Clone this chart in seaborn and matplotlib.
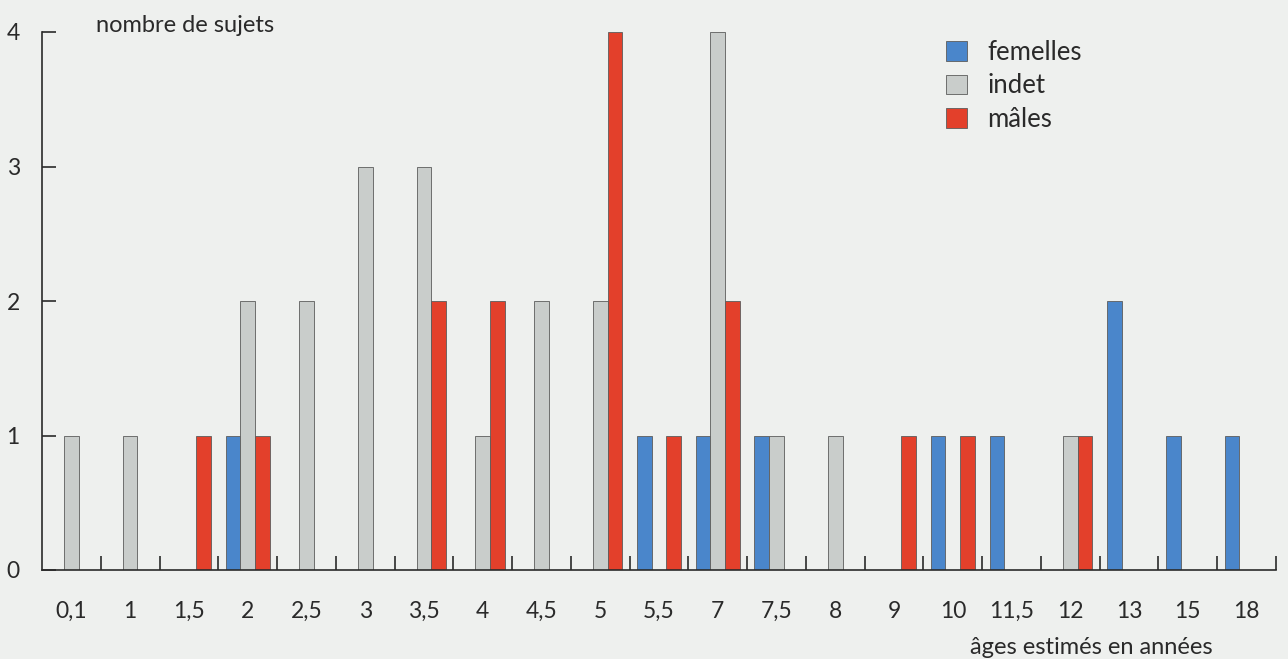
import numpy as np
import pandas as pd
import matplotlib
matplotlib.use("Agg")
import matplotlib.pyplot as plt
import seaborn as sns
from matplotlib.patches import Patch

# ---- data ----
ages = ["0,1", "1", "1,5", "2", "2,5", "3", "3,5", "4", "4,5", "5", "5,5",
        "7", "7,5", "8", "9", "10", "11,5", "12", "13", "15", "18"]
femelles = [0, 0, 0, 1, 0, 0, 0, 0, 0, 0, 1, 1, 1, 0, 0, 1, 1, 0, 2, 1, 1]
indet    = [1, 1, 0, 2, 2, 3, 3, 1, 2, 2, 0, 4, 1, 1, 0, 0, 0, 1, 0, 0, 0]
males    = [0, 0, 1, 1, 0, 0, 2, 2, 0, 4, 1, 2, 0, 0, 1, 1, 0, 1, 0, 0, 0]
groups = ["femelles", "indet", "mâles"]
yticks = [0, 1, 2, 3, 4]

colors = {"femelles": "#4a86cb", "indet": "#c9cdcb", "mâles": "#e3402b"}
bg = "#eef0ee"
ink = "#2a2a2a"

rows = []
for g, vals in zip(groups, [femelles, indet, males]):
    for a, v in zip(ages, vals):
        if v > 0:
            rows.append({"age": a, "n": v, "sexe": g})
df = pd.DataFrame(rows)

sns.set_theme(style="white")
plt.rcParams["font.family"] = ["Lato", "DejaVu Sans"]

fig = plt.figure(figsize=(12.88, 6.59), dpi=100, facecolor=bg)
ax = fig.add_axes([42 / 1288, 1 - 570 / 659, 1234 / 1288, 538 / 659])
ax.set_facecolor(bg)

sns.barplot(data=df, x="age", y="n", hue="sexe", order=ages, hue_order=groups,
            palette=colors, width=0.75, errorbar=None, edgecolor="#5c5c5c",
            linewidth=0.6, ax=ax, legend=False, saturation=1)

ax.set_xlim(-0.5, len(ages) - 0.5)
ax.set_ylim(0, 4)
ax.set_yticks(yticks)
ax.set_yticklabels([str(t) for t in yticks])
ax.set_xticks(np.arange(0.5, len(ages), 1), minor=True)

for s in ["top", "right"]:
    ax.spines[s].set_visible(False)
for s in ["left", "bottom"]:
    ax.spines[s].set_color(ink)
    ax.spines[s].set_linewidth(1.2)

ax.tick_params(axis="y", which="major", left=True, direction="in", length=10,
               width=1.2, pad=16, labelsize=16.5, colors=ink)
ax.tick_params(axis="x", which="major", bottom=True, length=0, pad=22,
               labelsize=16.5, labelcolor=ink)
ax.tick_params(axis="x", which="minor", bottom=True, direction="in", length=10,
               width=1.2, color=ink)

ax.set_xlabel("âges estimés en années", fontsize=17, color=ink, va="top")
ax.xaxis.set_label_coords(0.85, -0.124)
ax.set_ylabel("nombre de sujets", fontsize=17, color=ink, rotation=0,
              ha="left", va="center")
ax.yaxis.set_label_coords(54 / 1234, 1 + 7 / 538)

handles = [Patch(facecolor=colors[g], edgecolor="#5c5c5c", linewidth=0.6)
           for g in groups]
ax.legend(handles, groups, loc="upper left", bbox_to_anchor=(946 / 1288, 1 - 40 / 659),
          bbox_transform=fig.transFigure, frameon=False, fontsize=18.5,
          handlelength=0.8, handleheight=0.8, labelspacing=0.33,
          handletextpad=0.8, borderpad=0, borderaxespad=0, labelcolor=ink)

fig.savefig("out.png", dpi=100, facecolor=bg)
